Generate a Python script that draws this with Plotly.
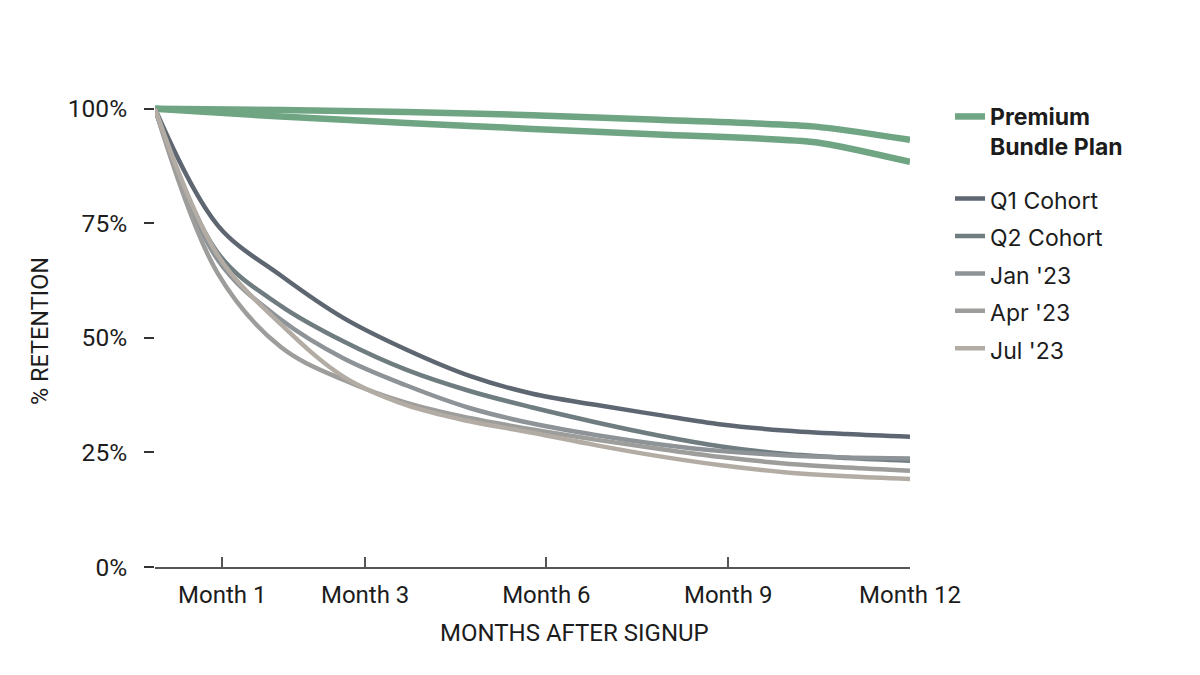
import plotly.graph_objects as go

# ---- data ----
months = [0, 1, 2, 3, 4, 5, 6, 7, 8, 9, 10, 11, 12]
q1_cohort = [100, 74.5, 63.6, 54.3, 47.4, 41.7, 37.8, 35.4, 33.2, 31.1, 29.8, 29.0, 28.4]
q2_cohort = [100, 68.5, 57.0, 49.2, 43.0, 38.4, 34.8, 31.6, 28.7, 26.3, 24.7, 23.8, 23.2]
jan_23 = [100, 67.0, 54.0, 45.5, 39.6, 34.7, 31.3, 28.8, 26.8, 25.3, 24.4, 23.9, 23.7]
apr_23 = [100, 64.0, 48.0, 40.8, 35.8, 32.5, 30.0, 27.8, 25.8, 24.0, 22.6, 21.7, 21.0]
jul_23 = [100, 68.0, 53.0, 41.5, 35.3, 31.8, 29.3, 26.6, 24.2, 22.2, 20.7, 19.8, 19.2]

premium_months = [0, 2, 4, 6, 8, 10.5, 12]
premium_a = [100, 99.7, 99.3, 98.6, 97.6, 96.1, 93.2]
premium_b = [100, 98.3, 96.9, 95.6, 94.4, 92.7, 88.4]

tick_months = [1.07, 3.34, 6.22, 9.11, 12]
tick_labels = ["Month 1", "Month 3", "Month 6", "Month 9", "Month 12"]
y_ticks = [0, 25, 50, 75, 100]
y_labels = ["0%", "25%", "50%", "75%", "100%"]

cohorts = [
    ("Q1 Cohort", q1_cohort, "#5e6672"),
    ("Q2 Cohort", q2_cohort, "#6f7c80"),
    ("Jan '23", jan_23, "#8d9396"),
    ("Apr '23", apr_23, "#9d9d9b"),
    ("Jul '23", jul_23, "#b2aca4"),
]

GREEN = "#70a584"
TEXT = "#1c1c1c"

fig = go.Figure()

fig.add_trace(go.Scatter(
    x=premium_months, y=premium_a, mode="lines",
    name="<b>Premium<br>Bundle Plan</b>", legend="legend",
    line=dict(color=GREEN, width=6.5, shape="spline", smoothing=0.6),
))
fig.add_trace(go.Scatter(
    x=premium_months, y=premium_b, mode="lines",
    name="Premium Bundle Plan", legend="legend", showlegend=False,
    line=dict(color=GREEN, width=6.5, shape="spline", smoothing=0.6),
))

for name, vals, color in cohorts:
    fig.add_trace(go.Scatter(
        x=months, y=vals, mode="lines",
        name="<span style='font-size:23px'>" + name + "</span>", legend="legend2",
        line=dict(color=color, width=4.5, shape="spline", smoothing=1.0),
    ))

fig.update_layout(
    width=1200, height=675, autosize=False,
    paper_bgcolor="white", plot_bgcolor="white",
    margin=dict(l=147, r=298, t=87, b=116),
    font=dict(family="Roboto", size=24, color=TEXT),
    showlegend=True,
    legend=dict(
        x=1.053, xanchor="left", y=1.0, yanchor="top",
        font=dict(family="Inter", size=23, color=TEXT),
        valign="top", bgcolor="rgba(0,0,0,0)",
    ),
    legend2=dict(
        x=1.053, xanchor="left", y=0.831, yanchor="top",
        font=dict(family="Inter", size=26.5, color=TEXT),
        bgcolor="rgba(0,0,0,0)",
    ),
    annotations=[dict(
        text="MONTHS AFTER SIGNUP", xref="paper", yref="paper",
        x=0.555, y=-0.139, xanchor="center", yanchor="middle", showarrow=False,
        font=dict(family="Roboto", size=24, color=TEXT),
    )],
)

fig.update_xaxes(
    range=[0, 12], tickmode="array", tickvals=tick_months, ticktext=tick_labels,
    showgrid=False, zeroline=False, showline=True, linecolor="#555555", linewidth=1.5,
    ticks="inside", ticklen=10, tickcolor="#555555", tickwidth=1.5,
    ticklabelstandoff=5,
    tickfont=dict(family="Roboto", size=24, color=TEXT),
)
fig.update_yaxes(
    range=[0, 103], tickmode="array", tickvals=y_ticks, ticktext=y_labels,
    showgrid=False, zeroline=False, showline=False,
    ticks="outside", ticklen=10, tickcolor="#333333", tickwidth=1.5,
    ticklabelstandoff=12,
    tickfont=dict(family="Roboto", size=24.5, color=TEXT),
    title=dict(text="% RETENTION", font=dict(family="Roboto", size=23.5, color=TEXT), standoff=12),
)

fig.write_html("out.html")
